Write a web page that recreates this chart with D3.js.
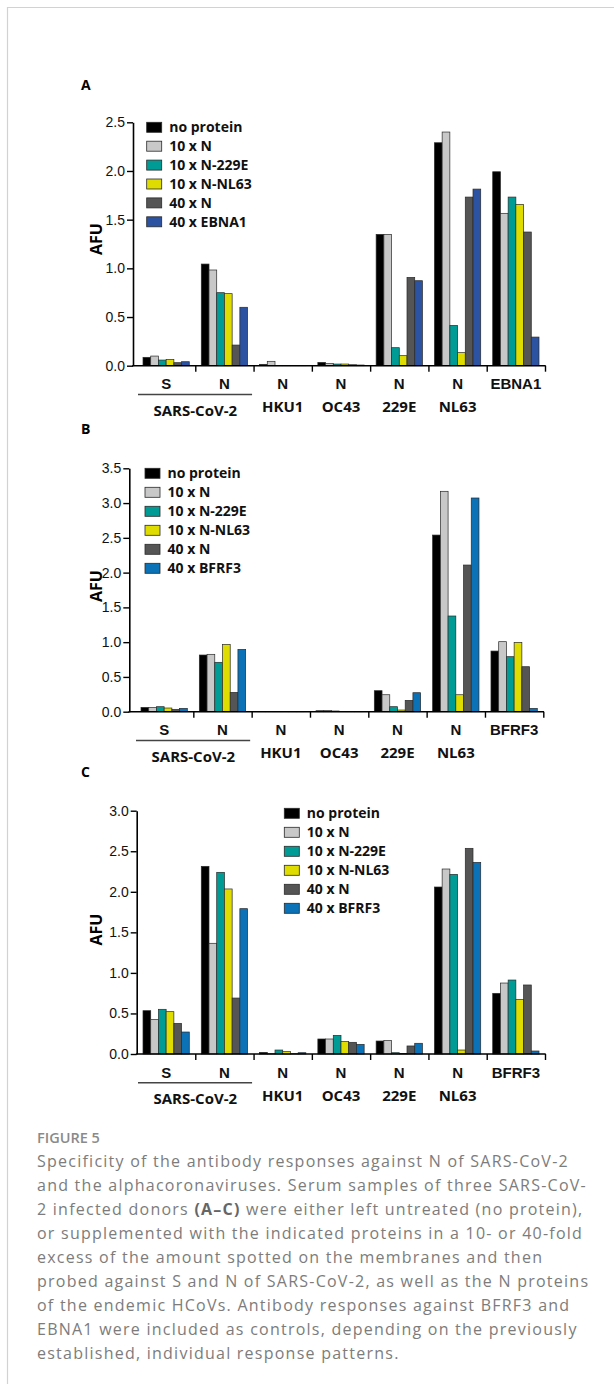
<!DOCTYPE html>
<html>
<head>
<meta charset="utf-8">
<script src="https://cdn.jsdelivr.net/npm/d3@7"></script>
<style>
  body { margin: 0; background: #fff; }
  svg { display: block; font-family: "Open Sans", "DejaVu Sans", sans-serif; }
</style>
</head>
<body>
<div id="figure"></div>
<script>
// ---- data ----
var categoriesA = ['S', 'N', 'N', 'N', 'N', 'N', 'EBNA1'];
var categoriesBC = ['S', 'N', 'N', 'N', 'N', 'N', 'BFRF3'];
var virusLabels = ['SARS-CoV-2', 'HKU1', 'OC43', '229E', 'NL63'];

var seriesA = ['no protein', '10 x N', '10 x N-229E', '10 x N-NL63', '40 x N', '40 x EBNA1'];
var seriesBC = ['no protein', '10 x N', '10 x N-229E', '10 x N-NL63', '40 x N', '40 x BFRF3'];

var ticksA = [0, 0.5, 1.0, 1.5, 2.0, 2.5];
var ticksB = [0, 0.5, 1.0, 1.5, 2.0, 2.5, 3.0, 3.5];
var ticksC = [0, 0.5, 1.0, 1.5, 2.0, 2.5, 3.0];

// one row per category, one value per series (AFU)
var afuA = [
  [0.086, 0.099, 0.058, 0.065, 0.031, 0.041],
  [1.044, 0.983, 0.750, 0.740, 0.212, 0.600],
  [0.014, 0.045, 0.003, 0.003, 0.002, 0.002],
  [0.034, 0.024, 0.017, 0.017, 0.010, 0.007],
  [1.349, 1.349, 0.185, 0.103, 0.907, 0.873],
  [2.290, 2.400, 0.414, 0.134, 1.732, 1.814],
  [1.992, 1.565, 1.732, 1.657, 1.373, 0.294]
];
var afuB = [
  [0.062, 0.062, 0.072, 0.053, 0.034, 0.048],
  [0.815, 0.825, 0.710, 0.968, 0.278, 0.896],
  [0.003, 0.003, 0.003, 0.003, 0.003, 0.003],
  [0.014, 0.019, 0.010, 0.003, 0.003, 0.003],
  [0.302, 0.244, 0.072, 0.024, 0.163, 0.273],
  [2.540, 3.169, 1.376, 0.244, 2.109, 3.073],
  [0.872, 1.007, 0.791, 0.997, 0.647, 0.048]
];
var afuC = [
  [0.534, 0.427, 0.551, 0.522, 0.378, 0.271],
  [2.314, 1.365, 2.240, 2.035, 0.690, 1.792],
  [0.020, 0.004, 0.049, 0.029, 0.004, 0.016],
  [0.185, 0.185, 0.230, 0.156, 0.144, 0.119],
  [0.160, 0.168, 0.016, 0.008, 0.099, 0.132],
  [2.059, 2.281, 2.215, 0.049, 2.536, 2.363],
  [0.748, 0.875, 0.912, 0.674, 0.851, 0.037]
];

var captionLines = [
  'Specificity of the antibody responses against N of SARS-CoV-2',
  'and the alphacoronaviruses. Serum samples of three SARS-CoV-',
  ['2 infected donors ', '(A\u2013C)', ' were either left untreated (no protein),'],
  'or supplemented with the indicated proteins in a 10- or 40-fold',
  'excess of the amount spotted on the membranes and then',
  'probed against S and N of SARS-CoV-2, as well as the N proteins',
  'of the endemic HCoVs. Antibody responses against BFRF3 and',
  'EBNA1 were included as controls, depending on the previously',
  'established, individual response patterns.'
];

// ---- layout ----
var w = 614;
var h = 1384;

var colorsA = ['#000000', '#c8c8c8', '#009b95', '#dedc00', '#555555', '#2b53a2'];
var colorsBC = ['#000000', '#c8c8c8', '#009b95', '#dedc00', '#555555', '#0b72b7'];

var panels = [
  { letter: 'A', letterY: 89.5, axisX: 133, x0: 137, x1: 545, zeroY: 365.7, topY: 122.3,
    ticks: ticksA, values: afuA, cats: categoriesA, series: seriesA, colors: colorsA,
    legendX: 146.7, legendY: 127.3, legendStep: 18.9, afuY: 239 },
  { letter: 'B', letterY: 434, axisX: 129.3, x0: 135, x1: 543.3, zeroY: 711.7, topY: 468.3,
    ticks: ticksB, values: afuB, cats: categoriesBC, series: seriesBC, colors: colorsBC,
    legendX: 145, legendY: 473.3, legendStep: 19, afuY: 586 },
  { letter: 'C', letterY: 776.7, axisX: 136.7, x0: 137, x1: 545, zeroY: 1054, topY: 810.7,
    ticks: ticksC, values: afuC, cats: categoriesBC, series: seriesBC, colors: colorsBC,
    legendX: 284.3, legendY: 813.3, legendStep: 19, afuY: 929.5 }
];

var svg = d3.select('#figure')
  .append('svg')
    .attr('width', w)
    .attr('height', h);

// page frame (top and left rule)
svg.append('path')
  .attr('d', 'M7.5,' + h + 'V7.5H' + w)
  .attr('fill', 'none')
  .attr('stroke', '#d2d2d2')
  .attr('stroke-width', 1.2);

panels.forEach(function(p) {

  var g = svg.append('g').attr('class', 'panel');

  var groupScale = d3.scaleBand()
    .domain(d3.range(p.cats.length))
    .range([p.x0, p.x1]);

  var barScale = d3.scaleBand()
    .domain(d3.range(p.series.length))
    .range([6, groupScale.bandwidth() - 6]);

  var yScale = d3.scaleLinear()
    .domain([0, d3.max(p.ticks)])
    .range([p.zeroY, p.topY]);

  // panel letter
  g.append('text')
    .attr('x', 81)
    .attr('y', p.letterY)
    .attr('font-size', 14)
    .attr('font-weight', 'bold')
    .text(p.letter);

  // bars
  g.selectAll('.cat-group')
    .data(p.values)
    .enter()
    .append('g')
      .attr('class', 'cat-group')
      .attr('transform', function(d, i) { return 'translate(' + groupScale(i) + ',0)'; })
    .selectAll('rect')
    .data(function(d) { return d; })
    .enter()
    .append('rect')
      .attr('x', function(d, j) { return barScale(j); })
      .attr('y', function(d) { return yScale(d); })
      .attr('width', barScale.bandwidth())
      .attr('height', function(d) { return yScale(0) - yScale(d); })
      .attr('fill', function(d, j) { return p.colors[j]; })
      .attr('stroke', '#2a2a2a')
      .attr('stroke-width', 0.7);

  // y axis
  var yAxis = d3.axisLeft(yScale)
    .tickValues(p.ticks)
    .tickFormat(d3.format('.1f'))
    .tickSize(6)
    .tickSizeOuter(0)
    .tickPadding(2);

  var yg = g.append('g')
    .attr('transform', 'translate(' + p.axisX + ',0)')
    .call(yAxis);
  yg.selectAll('text').attr('font-size', 14).attr('font-family', null).attr('fill', '#111');
  yg.selectAll('line').attr('stroke-width', 1.4);
  yg.select('.domain').attr('stroke-width', 1.6);

  // x axis: boundary ticks between categories
  var boundScale = d3.scaleLinear()
    .domain([0, p.cats.length])
    .range([p.x0, p.x1]);

  var xAxis = d3.axisBottom(boundScale)
    .tickValues(d3.range(1, p.cats.length + 1))
    .tickFormat('')
    .tickSize(6)
    .tickSizeOuter(0);

  var xg = g.append('g')
    .attr('transform', 'translate(0,' + p.zeroY + ')')
    .call(xAxis);
  xg.select('.domain').remove();
  xg.selectAll('line').attr('stroke-width', 1.4);
  xg.append('line')
    .attr('x1', p.axisX - 0.8)
    .attr('x2', p.x1 + 0.7)
    .attr('stroke', '#000')
    .attr('stroke-width', 1.6);

  // category labels
  var catAxis = d3.axisBottom(groupScale)
    .tickFormat(function(i) { return p.cats[i]; })
    .tickSize(0)
    .tickPadding(13);

  var cg = g.append('g')
    .attr('transform', 'translate(0,' + p.zeroY + ')')
    .call(catAxis);
  cg.select('.domain').remove();
  cg.selectAll('text')
    .attr('font-size', 15)
    .attr('font-weight', 'bold')
    .attr('font-family', null)
    .attr('fill', '#111');

  // SARS-CoV-2 bracket line under S and N
  g.append('line')
    .attr('x1', groupScale(0) + 1)
    .attr('x2', groupScale(1) + groupScale.bandwidth() - 1.5)
    .attr('y1', p.zeroY + 28.8)
    .attr('y2', p.zeroY + 28.8)
    .attr('stroke', '#444')
    .attr('stroke-width', 1.5);

  // virus labels
  g.selectAll('.virus-label')
    .data(virusLabels)
    .enter()
    .append('text')
      .attr('class', 'virus-label')
      .attr('x', function(d, i) {
        if (i == 0) {
          return (groupScale(0) + groupScale(1) + groupScale.bandwidth()) / 2;
        } else {
          return groupScale(i + 1) + groupScale.bandwidth() / 2;
        }
      })
      .attr('y', function(d, i) { return p.zeroY + (i == 0 ? 50 : 46.5); })
      .attr('text-anchor', 'middle')
      .attr('font-size', 15)
      .attr('font-weight', 'bold')
      .attr('fill', '#111')
      .text(function(d) { return d; });

  // AFU label
  g.append('text')
    .attr('transform', 'translate(101.5,' + p.afuY + ') rotate(-90)')
    .attr('text-anchor', 'middle')
    .attr('font-size', 16)
    .attr('font-weight', 'bold')
    .text('AFU');

  // legend
  var legend = g.selectAll('.legend-item')
    .data(p.series)
    .enter()
    .append('g')
      .attr('class', 'legend-item')
      .attr('transform', function(d, i) {
        return 'translate(' + p.legendX + ',' + (p.legendY + p.legendStep * i) + ')';
      });

  legend.append('rect')
    .attr('x', 0)
    .attr('y', -5)
    .attr('width', 15)
    .attr('height', 10)
    .attr('fill', function(d, i) { return p.colors[i]; })
    .attr('stroke', '#2a2a2a')
    .attr('stroke-width', 0.8);

  legend.append('text')
    .attr('x', 22.5)
    .attr('y', 5)
    .attr('font-size', 14)
    .attr('font-weight', 'bold')
    .attr('fill', '#111')
    .text(function(d) { return d; });
});

// caption
svg.append('text')
  .attr('x', 37)
  .attr('y', 1143)
  .attr('font-size', 14.5)
  .attr('font-weight', 600)
  .attr('fill', '#8a8a8a')
  .text('FIGURE 5');

var caption = svg.append('text')
  .attr('font-size', 16)
  .attr('fill', '#7c7c7c');

captionLines.forEach(function(line, i) {
  var y = 1166.5 + 24 * i;
  if (Array.isArray(line)) {
    caption.append('tspan').attr('x', 37).attr('y', y).text(line[0]);
    caption.append('tspan').attr('font-weight', 'bold').attr('fill', '#666').text(line[1]);
    caption.append('tspan').text(line[2]);
  } else {
    caption.append('tspan').attr('x', 37).attr('y', y).text(line);
  }
});

// the caption face in the figure is wider than Open Sans: spread letters so the
// longest line ("probed against ...") runs from x=37 to about x=588
var longest = caption.selectAll('tspan').filter(function(d, i) { return i == 7; });
var natural = longest.node().getComputedTextLength();
var nChars = longest.text().length;
caption.attr('letter-spacing', ((551 - natural) / (nChars - 1)).toFixed(3));
</script>
</body>
</html>
